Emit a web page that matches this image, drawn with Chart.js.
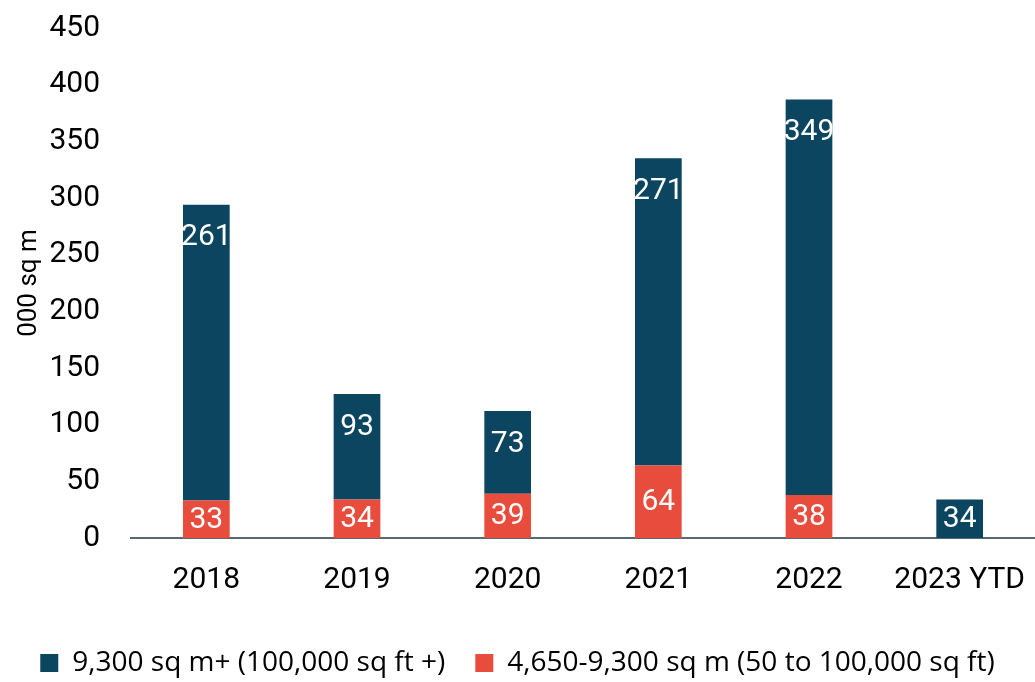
<!DOCTYPE html>
<html>
<head>
<meta charset="utf-8">
<script src="https://cdn.jsdelivr.net/npm/chart.js@4.4.1/dist/chart.umd.min.js"></script>
<style>
  html, body { margin: 0; padding: 0; background: #ffffff; }
  #wrap { width: 1035px; height: 682px; }
</style>
</head>
<body>
<div id="wrap"><canvas id="chart"></canvas></div>
<script>
// Take-up by unit size band, thousand square metres
const categories = ['2018', '2019', '2020', '2021', '2022', '2023 YTD'];
const largeUnits = [261, 93, 73, 271, 349, 34];    // 9,300 sq m+
const midUnits = [33, 34, 39, 64, 38, null];        // 4,650-9,300 sq m
const yTickValues = [0, 50, 100, 150, 200, 250, 300, 350, 400, 450];

const DARK = '#0c4560';
const RED = '#e84c3d';
const TICK_FONT = 'Roboto';

// Value labels drawn inside each bar segment
const segmentLabels = {
  id: 'segmentLabels',
  afterDatasetsDraw(chart) {
    const ctx = chart.ctx;
    ctx.save();
    ctx.font = '30px ' + TICK_FONT;
    ctx.fillStyle = '#ffffff';
    ctx.textAlign = 'center';
    ctx.textBaseline = 'middle';
    chart.data.datasets.forEach((ds, di) => {
      const meta = chart.getDatasetMeta(di);
      if (meta.hidden) return;
      meta.data.forEach((bar, i) => {
        const v = ds.data[i];
        if (v === null || v === undefined) return;
        const top = Math.min(bar.y, bar.base);
        const bottom = Math.max(bar.y, bar.base);
        const mid = (top + bottom) / 2;
        const cy = ds.labelAtEnd ? Math.min(top + 32, mid) : mid;
        ctx.fillText(String(v), bar.x, cy + 1);
      });
    });
    ctx.restore();
  }
};

new Chart(document.getElementById('chart'), {
  type: 'bar',
  data: {
    labels: categories,
    datasets: [
      {
        label: '4,650-9,300 sq m (50 to 100,000 sq ft)',
        data: midUnits,
        backgroundColor: RED,
        barPercentage: 0.31,
        categoryPercentage: 1.0,
        labelAtEnd: false
      },
      {
        label: '9,300 sq m+ (100,000 sq ft +)',
        data: largeUnits,
        backgroundColor: DARK,
        barPercentage: 0.31,
        categoryPercentage: 1.0,
        labelAtEnd: true
      }
    ]
  },
  options: {
    responsive: true,
    maintainAspectRatio: false,
    animation: false,
    devicePixelRatio: 1,
    layout: { padding: { top: 28, right: 0, bottom: -5, left: 0 } },
    plugins: {
      tooltip: { enabled: false },
      legend: {
        position: 'bottom',
        reverse: true,
        labels: {
          color: '#000000',
          font: { family: 'Open Sans', size: 28 },
          boxWidth: 18,
          boxHeight: 18,
          padding: 30
        }
      }
    },
    scales: {
      x: {
        stacked: true,
        afterFit(scale) {
          scale.height = 81;
          scale.paddingLeft = 0;
          scale.paddingRight = 0;
        },
        grid: { display: false, drawTicks: false },
        border: { display: true, color: '#5b6872', width: 2 },
        ticks: {
          color: '#000000',
          font: { family: TICK_FONT, size: 30 },
          padding: 24,
          maxRotation: 0,
          autoSkip: false
        }
      },
      y: {
        stacked: true,
        min: 0,
        max: 450,
        afterFit(scale) {
          scale.width = 131;
          scale.paddingTop = 0;
          scale.paddingBottom = 0;
        },
        afterBuildTicks(scale) { scale.ticks = yTickValues.map(v => ({ value: v })); },
        grid: { display: false, drawTicks: false },
        border: { display: false },
        ticks: {
          color: '#000000',
          font: { family: TICK_FONT, size: 30 },
          padding: 31
        },
        title: {
          display: true,
          text: '000 sq m',
          color: '#000000',
          font: { family: TICK_FONT, size: 26 },
          padding: { top: 14, bottom: 0 }
        }
      }
    }
  },
  plugins: [segmentLabels]
});
</script>
</body>
</html>
